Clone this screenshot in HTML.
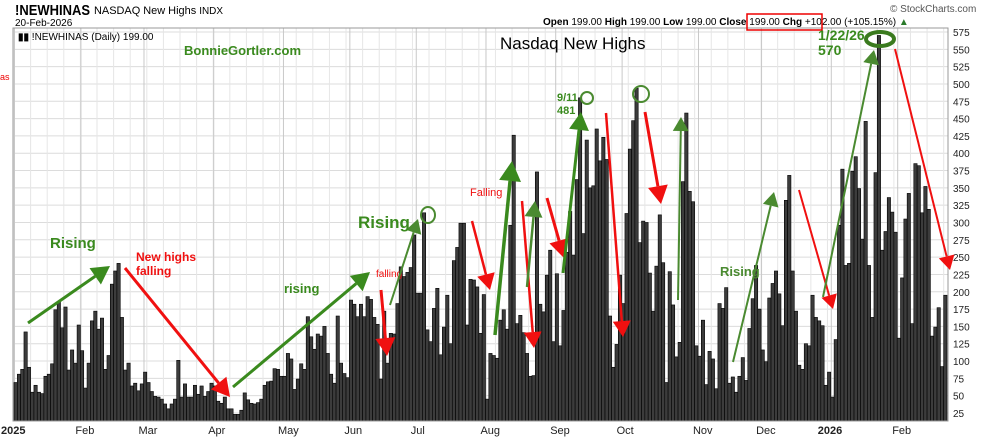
<!DOCTYPE html>
<html><head><meta charset="utf-8">
<style>
body{margin:0;background:#fff;width:990px;height:438px;overflow:hidden;font-family:"Liberation Sans",sans-serif}
svg{display:block}
</style></head>
<body>
<svg id="chart" width="990" height="438" xmlns="http://www.w3.org/2000/svg" font-family="Liberation Sans, sans-serif">
<g id="grid"></g>
<g id="bars"></g>
<g id="axes"></g>
<rect x="13" y="28" width="935" height="393" fill="none" stroke="#999" stroke-width="1"/>
<text x="15" y="15" font-size="15" font-weight="bold" textLength="75" lengthAdjust="spacingAndGlyphs">!NEWHINAS</text>
<text x="94" y="14" font-size="11" textLength="129" lengthAdjust="spacingAndGlyphs">NASDAQ New Highs <tspan font-size="10">INDX</tspan></text>
<text x="15" y="26" font-size="10">20-Feb-2026</text>
<text x="890" y="12" font-size="10" fill="#555">© StockCharts.com</text>
<text x="543" y="25" font-size="10"><tspan font-weight="bold">Open</tspan> 199.00 <tspan font-weight="bold">High</tspan> 199.00 <tspan font-weight="bold">Low</tspan> 199.00 <tspan font-weight="bold">Close</tspan> 199.00 <tspan font-weight="bold">Chg</tspan> +102.00 (+105.15%) <tspan fill="#2a7a2a">▲</tspan></text>
<rect x="747" y="14" width="75" height="16" fill="none" stroke="#e00" stroke-width="1.5"/>
<text x="18" y="40" font-size="10"><tspan font-weight="bold">▮▮</tspan> !NEWHINAS (Daily) 199.00</text>
<text x="184" y="55" font-size="13" font-weight="bold" fill="#3a8a1e">BonnieGortler.com</text>
<text x="500" y="49" font-size="17">Nasdaq New Highs</text>
<text x="0" y="80" font-size="9" fill="#e00">as</text>
<g id="ann"></g>
</svg>
<script>
const values=[69,81,88,142,91,55,65,55,53,78,81,96,174,185,148,178,87,116,97,152,115,61,97,158,172,146,162,88,108,211,230,241,163,87,97,64,68,57,67,84,69,56,49,48,45,38,31,38,45,101,48,67,48,48,65,52,64,49,56,68,64,42,39,48,31,31,23,23,29,
54,44,39,38,40,45,65,70,71,89,88,78,78,111,103,59,74,96,88,164,135,117,139,136,150,111,81,68,165,97,82,76,188,182,164,182,164,193,189,163,153,74,172,97,140,139,183,236,222,228,235,282,198,198,314,145,128,176,205,109,149,195,125,245,264,299,299,152,218,217,207,140,196,
45,111,108,104,159,174,146,296,426,154,166,141,111,78,79,373,182,171,224,260,128,226,122,173,257,316,253,362,480,284,419,350,353,435,389,423,391,165,91,124,224,183,313,406,447,494,271,302,300,227,172,237,311,242,69,229,181,106,127,359,458,345,330,122,107,159,66,114,103,60,183,
176,206,68,77,55,78,105,72,147,190,238,175,116,99,191,212,230,197,151,332,368,230,172,94,88,125,122,195,163,158,151,65,84,48,131,296,377,238,241,374,395,349,276,446,238,163,372,570,260,287,336,315,286,133,220,305,342,154,385,382,314,352,319,136,149,177,92,195];
const yTicks=[25,50,75,100,125,150,175,200,225,250,275,300,325,350,375,400,425,450,475,500,525,550,575];
const monthLabels=["2025","Feb","Mar","Apr","May","Jun","Jul","Aug","Sep","Oct","Nov","Dec","2026","Feb"];
const monthIdx=[0,20,39,60,81,101,121,142,163,183,206,225,246,266];
const NS="http://www.w3.org/2000/svg";
const L=13,R=948,T=28,B=421;
const bw=(R-L-2)/values.length;
function x(i){return L+1+i*bw;}
function y(v){return 430.3-v*0.6927;}
function mk(tag,attrs,parent){const e=document.createElementNS(NS,tag);for(const k in attrs)e.setAttribute(k,attrs[k]);parent.appendChild(e);return e;}
const grid=document.getElementById('grid'),bars=document.getElementById('bars'),axes=document.getElementById('axes'),ann=document.getElementById('ann');
yTicks.forEach(t=>{
  const l=mk('line',{x1:L,x2:R,y1:y(t),y2:y(t),stroke:'#dcdcdc','stroke-width':1},grid);
  
  
  const tx=mk('text',{x:R+5,y:y(t)+4,'font-size':10,fill:'#222'},axes);
  
  
  tx.textContent=t;
});
for(let i=0;i<values.length;i+=5){
  const l=mk('line',{x1:x(i),x2:x(i),y1:T,y2:B,stroke:'#e6e6e6','stroke-width':1},grid);
  
  
}
monthIdx.forEach((m,k)=>{
  const l=mk('line',{x1:x(m)+0.5,x2:x(m)+0.5,y1:T,y2:B,stroke:'#c8c8c8','stroke-width':1},grid);
  
  
  const bold=monthLabels[k].length===4;
  const tx=mk('text',{x:bold?x(m)-13:x(m)-5,y:434,'font-size':11,'font-weight':bold?'bold':'normal',fill:'#222'},axes);
  
  
  tx.textContent=monthLabels[k];
});
values.forEach((v,i)=>{
  const top=Math.max(y(v),T);
  const r=mk('rect',{x:x(i),y:top,width:bw,height:B-top,fill:'#3c3c3c',stroke:'#000','stroke-width':0.6},bars);
  
  
});
function arrow(x1,y1,x2,y2,col,w,name){
  const g=mk('g',{},ann);
  
  
  const a=Math.atan2(y2-y1,x2-x1),h=w*4+6,hw=w*2+4;
  const bx=x2-h*Math.cos(a),by=y2-h*Math.sin(a);
  mk('line',{x1:x1,y1:y1,x2:bx,y2:by,stroke:col,'stroke-width':w},g);
  const px=-Math.sin(a),py=Math.cos(a);
  mk('polygon',{points:`${x2},${y2} ${bx+px*hw},${by+py*hw} ${bx-px*hw},${by-py*hw}`,fill:col},g);
}
function txt(s,tx,ty,col,size,name,bold){
  const t=mk('text',{x:tx,y:ty,fill:col,'font-size':size,'font-weight':bold?'bold':'normal'},ann);
  
  
  t.textContent=s;
}
function circ(cx,cy,rx,ry,col,w,name){
  const c=mk('ellipse',{cx:cx,cy:cy,rx:rx,ry:ry,fill:'none',stroke:col,'stroke-width':w},ann);
  
  
}
const G='#3a8a1e',GR='#4a8a30',RD='#f01010';
txt('Rising',50,248,G,15,'rising-label-1',true);
arrow(28,323,110,266,G,3,'rising-arrow-1');
txt('New highs',136,261,RD,12,'falling-label-1',true);
txt('falling',136,275,RD,12,'falling-label-1b',true);
arrow(125,268,230,397,RD,3,'falling-arrow-1');
arrow(233,387,370,272,G,3,'rising-arrow-2');
txt('rising',284,293,G,13,'rising-label-2',true);
txt('falling',376,277,RD,10,'falling-label-2',false);
arrow(381,290,387,356,RD,3,'falling-arrow-2');
arrow(390,305,418,219,GR,2,'rising-arrow-3');
txt('Rising',358,228,G,17,'rising-label-3',true);
circ(428,215,7,8,GR,2,'peak-circle-jul');
arrow(472,221,490,290,RD,2.5,'falling-arrow-3');
txt('Falling',470,196,RD,11,'falling-label-3',false);
arrow(495,335,512,161,G,3.5,'rising-arrow-4');
arrow(522,201,534,348,RD,2.5,'falling-arrow-4');
arrow(527,287,535,201,GR,2.5,'rising-arrow-5');
arrow(547,198,564,258,RD,3,'falling-arrow-5');
arrow(563,273,581,112,G,3,'rising-arrow-6');
txt('9/11',557,101,G,11,'peak-date-sep',true);
txt('481',557,114,G,11,'peak-value-sep',true);
circ(587,98,6,6,GR,2,'peak-circle-sep');
arrow(606,113,623,337,RD,2.5,'falling-arrow-6');
circ(641,94,8,8,GR,2,'peak-circle-oct');
arrow(645,112,661,204,RD,3,'falling-arrow-7');
arrow(678,300,681,117,GR,2,'rising-arrow-7');
txt('Rising',720,276,GR,13,'rising-label-4',true);
arrow(733,362,774,192,GR,2,'rising-arrow-8');
arrow(799,190,833,309,RD,2,'falling-arrow-8');
arrow(823,297,874,50,GR,2,'rising-arrow-9');
txt('1/22/26',818,40,G,14,'peak-date-jan',true);
txt('570',818,55,G,14,'peak-value-jan',true);
circ(880,39,14,7,'#3a7a1e',4,'peak-circle-jan');
arrow(895,49,950,270,RD,2,'falling-arrow-9');
</script>
</body></html>
